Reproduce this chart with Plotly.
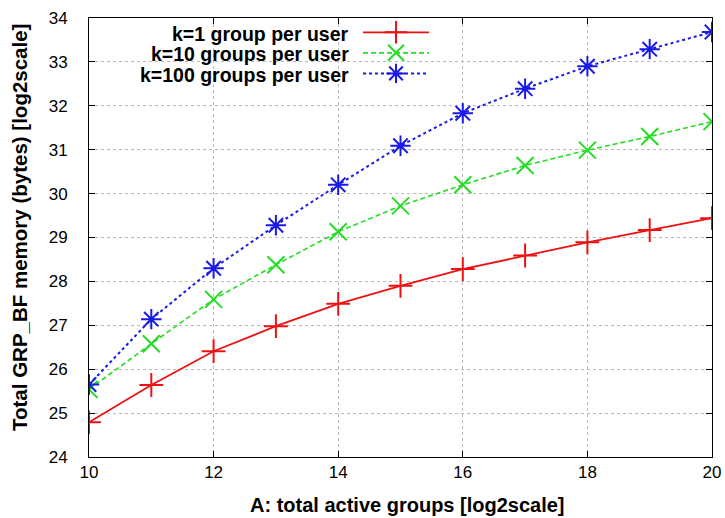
import plotly.graph_objects as go

x_groups = [10, 11, 12, 13, 14, 15, 16, 17, 18, 19, 20]
k1 = [24.79, 25.64, 26.41, 26.98, 27.49, 27.90, 28.28, 28.59, 28.89, 29.17, 29.44]
k10 = [25.54, 26.58, 27.59, 28.38, 29.13, 29.72, 30.20, 30.64, 30.99, 31.30, 31.64]
k100 = [25.65, 27.14, 28.30, 29.28, 30.20, 31.09, 31.83, 32.39, 32.90, 33.29, 33.68]
names = ["k=1 group per user", "k=10 groups per user", "k=100 groups per user"]
colors = ["#ee1111", "#22dd22", "#1a1ae8"]
symbols = ["cross-thin-open", "x-thin-open", "asterisk-open"]
dashes = ["solid", "5px,3px", "dot"]
widths = [1.8, 1.6, 2.0]
x_ticks = [10, 12, 14, 16, 18, 20]
y_ticks = list(range(24, 35))
x_title = "A: total active groups [log2scale]"
y_title = "Total GRP_BF memory (bytes) [log2scale]"

# plot area in pixels
L, R, T, B = 89, 712, 18, 457
PW, PH = R - L, B - T

fig = go.Figure()
for ys, c, s, d, w in zip([k1, k10, k100], colors, symbols, dashes, widths):
    fig.add_trace(go.Scatter(
        x=x_groups, y=ys, mode="lines+markers", name="",
        line=dict(color=c, width=w, dash=d),
        marker=dict(symbol=s, size=17, color=c, line=dict(color=c, width=2)),
    ))

font = "Liberation Sans, Arial, sans-serif"
for i, nm in enumerate(names):
    fig.add_annotation(
        text="<b>%s</b>" % nm, xref="paper", yref="paper",
        x=(351 - L) / PW, y=(B - (34 + 20.5 * i)) / PH,
        xanchor="right", yanchor="middle", showarrow=False,
        font=dict(family=font, size=19.5, color="black"),
    )

fig.add_annotation(text="<b>%s</b>" % x_title, xref="paper", yref="paper",
                   x=(407 - L) / PW, y=(B - 505) / PH, xanchor="center", yanchor="middle",
                   showarrow=False, font=dict(family=font, size=20, color="black"))
fig.add_annotation(text="<b>%s</b>" % y_title, xref="paper", yref="paper",
                   x=(20 - L) / PW, y=(B - 228) / PH, xanchor="center", yanchor="middle",
                   textangle=-90, showarrow=False,
                   font=dict(family=font, size=20.5, color="black"))

axis_common = dict(
    showline=True, linecolor="black", linewidth=1, mirror="ticks",
    ticks="inside", ticklen=6, tickcolor="black",
    showgrid=True, gridcolor="#bbbbbb", griddash="dot", gridwidth=1,
    zeroline=False, tickfont=dict(family=font, size=17, color="black"),
    tickprefix="<b>", ticksuffix="</b>", automargin=False,
)

fig.update_layout(
    width=725, height=518,
    margin=dict(l=L, r=725 - R, t=T, b=518 - B, autoexpand=False),
    paper_bgcolor="white", plot_bgcolor="white",
    showlegend=True,
    legend=dict(x=(358 - L) / PW, y=(B - 17) / PH, xanchor="left", yanchor="top",
                bgcolor="rgba(0,0,0,0)", font=dict(family=font, size=13.5),
                tracegroupgap=0, itemwidth=66),
    xaxis=dict(range=[10, 20], tickvals=x_ticks, **axis_common),
    yaxis=dict(range=[24, 34], tickvals=y_ticks, ticklabelstandoff=17, **axis_common),
)

fig.write_html("out.html", config={"displayModeBar": False},
               post_script="document.body.style.margin='0';document.body.style.padding='0';")
